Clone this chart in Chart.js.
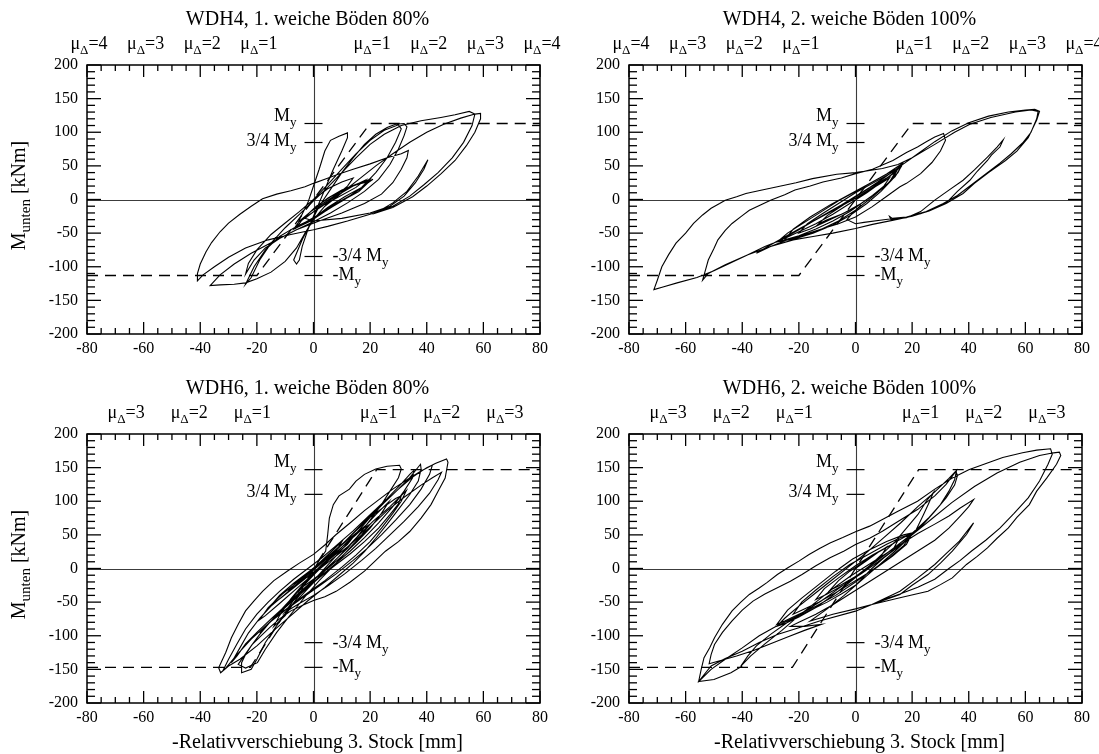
<!DOCTYPE html>
<html><head><meta charset="utf-8">
<script src="https://cdn.jsdelivr.net/npm/chart.js@4.4.1/dist/chart.umd.min.js"></script>
<style>
html,body{margin:0;padding:0;background:#fff;}
#wrap{position:relative;width:1099px;height:754px;overflow:hidden;background:#fff;}
canvas{position:absolute;}
</style></head><body><div id="wrap">
<canvas id="c2" width="550" height="377" style="left:549px;top:0"></canvas>
<canvas id="c4" width="550" height="377" style="left:549px;top:377px"></canvas>
<canvas id="c1" width="570" height="377" style="left:0;top:0"></canvas>
<canvas id="c3" width="570" height="377" style="left:0;top:377px"></canvas>
</div>
<script>
// ---------- data ----------
const xTickValues = [-80,-60,-40,-20,0,20,40,60,80];
const yTickValues = [-200,-150,-100,-50,0,50,100,150,200];
const panelTitles = ["WDH4, 1. weiche Böden 80%","WDH4, 2. weiche Böden 100%","WDH6, 1. weiche Böden 80%","WDH6, 2. weiche Böden 100%"];
const yieldMoments = [113,113,147,147];
const yieldDrifts = [20,20,22.3,22.3];
const ductilityLevels = [[1,2,3,4],[1,2,3,4],[1,2,3],[1,2,3]];
const yAxisTitle = "M";
const yAxisTitleSub = "unten";
const yAxisTitleUnit = " [kNm]";
const xAxisTitle = "-Relativverschiebung 3. Stock [mm]";

const wdh4First = [
[0,0],[5,16],[10,26],[14,32],[12,20],[8,6],[3,-10],[-2,-24],[-5,-34],[-3,-26],[1,-10],[6,4],[11,16],[16,24],[20,30],[18,20],[13,6],[8,-6],[2,-22],[-3,-34],[-6,-42],[-4,-30],[0,-14],[5,2],[10,14],[15,22],[19,26],[21,30],[17,18],[11,4],[5,-12],[0,-28],[-4,-38],[-7,-44],[-5,-32],[-1,-18],[4,-4],[9,10],[14,20],[18,26],[20,28],[16,12],[10,-2],[4,-18],[-1,-32],[-6,-42],
[-5,-30],[-2,-5],[0,20],[2,45],[4,72],[6,88],[9,94],[12,99],[12,92],[10,72],[7,45],[4,15],[1,-15],[-2,-45],[-4,-70],[-5,-90],[-6,-96],[-7,-90],
[-6,-80],[-4,-60],[-1,-35],[2,-10],[6,15],[10,40],[14,62],[18,82],[22,97],[26,107],[29,112],[32,113],[33,108],[32,95],[30,75],[27,52],[23,30],[18,12],[12,-5],[6,-20],[0,-33],[-6,-45],[-12,-58],[-17,-72],[-21,-90],[-24,-111],
[-23,-95],[-20,-75],[-15,-52],[-10,-35],[-5,-18],[0,0],[5,22],[10,45],[15,68],[20,88],[25,103],[30,111],[31,105],[29,85],[26,62],[22,40],[17,18],[11,0],[5,-15],[0,-28],[-6,-40],[-12,-55],[-17,-75],[-21,-100],[-24,-126],
[-22,-116],[-19,-90],[-15,-65],[-10,-42],[-5,-22],[0,-2],[5,18],[10,40],[15,62],[20,82],[25,97],[31,110],[38,117],[45,122],[50,126],[55,131],[57,127],[56,110],[53,85],[49,62],[44,40],[39,22],[34,5],[28,-10],[20,-22],[12,-32],[5,-40],[0,-45],[-8,-52],[-16,-60],[-24,-72],[-30,-86],[-35,-100],[-39,-112],[-41,-121],
[-41,-110],[-40,-96],[-38,-78],[-36,-64],[-33,-48],[-30,-35],[-26,-22],[-22,-10],[-18,1],[-13,8],[-8,13],[-3,19],[0,24],[4,30],[9,38],[14,45],[20,53],[26,62],[31,68],[33.5,73],[33,62],[31,45],[28,25],[24,8],[18,-6],[10,-20],[2,-32],[-6,-45],[-14,-62],[-22,-80],[-28,-96],[-33,-112],[-36.5,-128],
[-33,-127],[-28,-126],[-24,-124],[-20,-118],[-15,-108],[-10,-92],[-6,-72],[-3,-50],[0,-30],[4,-10],[10,10],[16,30],[22,50],[28,68],[34,85],[40,100],[46,112],[52,121],[57,127],[59,128],[59,120],[57,100],[54,80],[50,58],[45,38],[40,20],[35,4],[28,-12],[22,-20],
[28,-5],[33,12],[37,35],[40.4,59],[39,45],[36,25],[32,5],[27,-10],[20,-20],[10,-28],[0,-32],[-3,-28],[2,-12],[8,5],[14,20],[18,28],[15,18],[8,2],[2,-12]
];

const wdh4Second = [
[0,0],[5,14],[9,24],[12,32],[10,20],[6,6],[0,-12],[-5,-22],[-10,-30],[-13,-36],[-10,-24],[-5,-10],[0,4],[6,20],[11,32],[14,40],[12,26],[8,12],[2,-6],[-4,-20],[-10,-32],[-16,-44],[-20,-50],[-17,-36],[-12,-22],[-6,-6],[0,10],[6,24],[12,38],[16,48],[14,34],[10,18],[4,0],[-2,-18],[-8,-32],[-14,-44],[-20,-54],[-25,-60],[-22,-44],[-16,-26],[-9,-8],[-2,8],[5,24],[11,38],[16.7,54],[15,40],[11,22],[6,4],[0,-16],[-6,-32],[-13,-46],[-20,-56],[-27.6,-63],[-24,-50],[-18,-34],[-12,-18],[-6,-2],[0,12],[6,26],[12,40],[15,46],[13,30],[9,12],[4,-6],[-2,-24],[-8,-38],[-15,-50],[-21,-58],[-27.6,-63],
[-20,-45],[-12,-25],[-5,-8],[0,5],[5,18],[10,32],[16,50],[22,68],[28,86],[34,102],[40,114],[47,124],[54,130],[60,133],[63.3,134],[65,131],
[64,118],[61,92],[57,72],[53,58],[47,40],[42,24],[38,9],[32,-6],[26,-17],[20,-25],[13,-31],[6,-37],[0,-43],[-8,-50],[-15,-55],[-22,-60],[-30,-70],[-38,-82],[-46,-97],[-52,-110],[-54,-120],
[-53,-105],[-52,-90],[-50,-73],[-48.6,-60],[-46,-46],[-43.6,-35.6],[-40,-24],[-37.5,-16],[-33,-7],[-30,-1],[-25,7],[-21.4,14],[-16,20],[-11.5,26],[-5,32],[0,38.5],[6,45],[13.2,58],[18,70],[21.9,78],[25,86],[28,93],[31.1,98],[31.8,88],[30,72],[27,55],[23,38.5],[18,24],[15.7,19],[10.8,4],[5.8,-11],[0,-26],[-6,-36],[-12,-44],[-18,-52],[-24,-60],[-30,-70],[-35,-80],
[-31,-70],[-26,-58],[-20,-44],[-13,-28],[-6,-12],[0,2],[6,18],[12,34],[16.7,54],[15,45],[10,28],[4,10],[-2,-6],[-8,-22],[-14,-36],[-20,-48],[-26,-60],[-32,-70],[-38,-82],[-44,-94],[-50,-106],[-56,-116],[-63,-124],[-68,-130],[-71.2,-134],
[-70,-120],[-68.4,-100],[-66,-82],[-63.4,-65],[-60,-50],[-57.2,-35.6],[-54,-23],[-51,-13],[-48,-6],[-46,-1],[-42,4],[-38.7,9],[-33,14],[-27.6,19],[-21,25],[-15.2,31],[-6.6,37.5],[0,40],[9.5,46],[15,52],[20,62],[28,82],[35,100],[40.4,112],[47.8,122],[56.5,130],[62,133],[64.5,131],[64,120],[62,100],[59,84],[55,68],[51,54],[46,38],[41,22],[36,6],[31,-6],[25,-18],[18,-26],[13,-28],[12,-25],[12.5,-30],[18,-27],
[23,-18],[28,-1],[33,14],[38,28.6],[42,44],[46.6,63],[50,78],[52.2,89],[51,78],[48,66],[46.6,58],[43,42],[40.4,28.6],[36,12],[31.8,-6],[27,-15],[23,-21],[18,-26],[10,-30],[3,-34],[0,-36],[-3,-30],[-1,-20],[2,-8]
];

const wdh6First = [
[0,0],[4,16],[8,32],[10,40],[8,26],[4,12],[-1,-6],[-6,-24],[-9,-34],[-6,-20],[-2,-6],[3,10],[8,28],[13,46],[15,52],[12,36],[7,18],[1,-2],[-5,-22],[-11,-42],[-15,-55],[-12,-40],[-7,-22],[-2,-6],[4,14],[10,36],[15,52],[20,66],[17,50],[12,32],[6,12],[0,-8],[-6,-30],[-12,-52],[-17,-70],[-19,-76],[-16,-58],[-11,-38],[-5,-18],[1,2],[7,24],[13,46],[19,66],
[15,50],[9,28],[3,6],[-3,-20],[-8,-45],[-12,-70],[-14,-86],[-10,-70],[-6,-45],[-2,-15],[2,12],[4.3,26],[5,50],[5.6,75],[7,95],[9,108],[12.7,118],[15,130],[18,140],[22,148],[26,152],[30.4,153.5],[31,148],[30,135],[27,115],[24,95],[20,72],[16,50],[12,30],[7,10],[2,-10],[-4,-32],[-10,-55],[-15,-78],[-19,-98],[-22,-115],[-24,-128],[-25.4,-140],[-25.4,-155],
[-22,-150],[-20,-135],[-17,-110],[-13,-85],[-9,-62],[-5,-40],[0,-18],[5,5],[10,28],[15,52],[20,76],[25,98],[30,118],[34,135],[37.8,155],[38,148],[37,130],[34,110],[30,88],[26,66],[22,45],[18,25],[14,8],[9,-10],[4,-28],[-2,-48],[-8,-70],[-14,-92],[-20,-115],[-26,-135],[-30,-145],[-32.8,-155],
[-33.5,-147.5],[-31,-125],[-29,-103],[-26.5,-82],[-24,-63],[-21,-48],[-18,-34],[-14,-18],[-9.3,-4],[-5,8],[0,21],[4,35],[8,50.5],[13,68],[18,86],[23,102],[28,118],[33,132],[38,145],[43,156],[47,163],[47.5,158],[46.5,134.6],[44,115],[41.5,95],[38,75],[34,55],[30,40],[25.4,25.7],[22,12],[18,-4],[13,-20],[8,-34],[4,-42],[0,-47.5],[-4,-55],[-8,-63],[-12,-75],[-15.5,-88],[-19,-102],[-21.7,-113],[-24,-127],[-26.6,-142.6],[-24,-148],[-19.8,-140],
[-17,-120],[-13,-95],[-8,-68],[-3,-42],[2,-18],[8,8],[14,36],[20,62],[26,86],[32,106],[38,124],[42,135],[45.2,143],[44,132],[41,112],[37,92],[32,70],[27,50],[22,30],[17,12],[11,-8],[5,-26],[0,-40],[-5,-52],[-10,-65],
[-6,-48],[-2,-30],[3,-8],[9,18],[15,45],[21,70],[27,92],[32.8,116],[31,100],[28,82],[24,60],[20,40],[15,20],[10,2],[4,-18],[-2,-36],[-8,-55],[-14,-75],[-18,-90],[-15,-78],[-10,-55],[-5,-32],[0,-10],[6,15],[12,40],[18,62],[22,80],[26.6,99],[24,82],[20,60],[15,38],[10,18],[5,0],[0,-16],[-4,-28],
[0,-8],[6,18],[12,44],[18,70],[24,94],[30,118],[35,136],[40,150],[42,154],[41,140],[38,118],[34,95],[29,72],[24,50],[19,30],[14,12],[8,-8],[2,-26],[-4,-44],[-10,-62],[-16,-82],[-22,-105],[-27,-128],[-31,-148],[-32,-152],
[-30,-135],[-27,-112],[-24,-90],[-20,-68],[-16,-50],[-12,-34],[-7,-16],[-2,0],[3,16],[8,34],[14,56],[20,80],[26,104],[31,126],[34,140],[35.5,146],[35,135],[32,115],[28,92],[23,68],[18,46],[13,26],[8,8],[3,-10],[-3,-30],[-9,-52],[-15,-75],[-20,-95],[-24,-112],[-27,-130],[-29,-140],
[-26,-118],[-23,-96],[-19,-74],[-15,-56],[-10,-38],[-5,-20],[0,-2],[5,16],[10,36],[15,56],[20,76],[25,92],[29,104],[31,108],[30,96],[27,80],[23,60],[18,40],[13,22],[8,6],[2,-14],[-4,-36],[-10,-58],[-15,-78],[-19,-96]
];

const wdh6Second = [
[0,0],[4,12],[8,24],[11,32],[9,18],[5,4],[0,-12],[-5,-24],[-9,-32],[-6,-18],[-2,-4],[3,10],[8,24],[13,36],[15,42],[13,26],[8,10],[2,-8],[-4,-24],[-10,-38],[-14,-46],[-11,-30],[-6,-14],[0,4],[6,20],[12,34],[17,46],[20,52],[18,36],[13,18],[7,0],[0,-18],[-7,-36],[-13,-50],[-19,-62],[-22,-68],[-19,-50],[-14,-32],[-8,-12],[-2,6],[5,22],[11,36],[16,46],[20,52],[17,34],[12,16],[6,-2],[0,-20],[-7,-40],[-14,-56],[-20,-68],[-25,-78],[-27.8,-83],[-24,-62],[-19,-44],[-13,-24],[-7,-4],[-1,14],[5,28],[11,40],[17,50],[21,54],
[24,80],[26,98],[27.5,113],[25,100],[22,80],[18,60],[14,40],[9,20],[4,0],[-2,-20],[-8,-40],[-14,-58],[-20,-72],[-25,-82],[-27.8,-86],
[-25,-74],[-20,-56],[-14,-36],[-8,-16],[-2,4],[4,24],[10,46],[16,68],[22,92],[28,114],[33,134],[35.7,146],
[35,132],[33,115],[30,95],[26,76],[22,60],[18,45],[14,32],[9,16],[4,0],[0,-12],[-6,-30],[-12,-48],[-18,-64],[-24,-80],[-30,-98],[-35,-115],[-38,-130],[-40.5,-145],
[-37,-130],[-32,-112],[-26,-92],[-20,-70],[-14,-50],[-8,-30],[-2,-12],[4,4],[10,20],[16,36],[22,52],[28,66],[33,78],[37,90],[41.7,102.5],
[40,92],[37,78],[33,60],[28,42],[22,26],[16,10],[10,-6],[4,-22],[-2,-38],[-8,-54],[-14,-68],[-20,-80],[-23,-86],[-18,-86],[-12,-83],
[-18,-92],[-24,-102],[-30,-112],[-36,-122],[-42,-130],[-47,-136],[-51.7,-141.6],
[-51,-128],[-49.8,-113],[-47,-95],[-43.6,-78],[-40,-62],[-36.2,-48.5],[-32,-38],[-27.6,-28.7],[-23,-19],[-18.9,-9],[-14,4],[-9,16],[-4,26],[0,35.6],[5,45],[9.5,55.4],[15,70],[21.9,87.6],[28,108],[32,125],[35.5,144.6],
[36,138],[35,124],[32,105],[28,85],[24,66],[20,50],[15,32],[10,16],[5.8,0],[3,-12],[0,-25],[-5,-38],[-10,-50],[-16,-62],[-22,-74],[-28,-86],[-34,-100],[-40,-118],[-46,-135],[-51,-150],[-55.4,-168],
[-54.5,-150],[-53.5,-132.7],[-51.5,-118],[-49.8,-103],[-47,-83],[-43.6,-63],[-40.5,-50],[-37.5,-38.6],[-34,-29],[-31.3,-21],[-27.6,-9],[-23.9,1],[-20,11],[-16.4,20.8],[-12.7,29.7],[-9,38],[-4.5,46],[0,54.5],[5,63],[9.5,72.8],[15,85],[21.9,100],[28,118],[34.2,134.7],[40,147],[46.6,157],[52,165],[59,172],[64,176],[68.9,178],
[69.5,170],[68,155],[65,130],[61,105],[56,82],[51,60],[46,42],[41,26],[37,12],[33,0],[28,-16],[22,-28],[15.7,-38],[10,-46],[5.8,-53.5],
[15.7,-33.7],[22,-14],[28,6],[32,22],[36.7,40.6],[41.7,67.8],[39.2,50.5],[34.2,25.7],[30,8],[25.6,-9],[20,-25],[15.7,-38.6],[5.8,-53.5],[0,-60],[-8,-68],[-16,-78],
[-10,-60],[-4,-40],[2,-18],[8,4],[14,26],[20,50],[27,74],[34,98],[42,122],[50,142],[58,158],[65,168],[70,172],[72,173],[72.5,168],[71,155],[67.6,134.7],[64,115],[61.4,95],[57,76],[54,60.4],[50,45],[46.6,30.7],[43,18],[39.2,6],[34.2,-14],[30,-24],[25.6,-33.7],[15.7,-43.6],[5.8,-53.5],[0,-63.4],[-12.7,-78],[-20,-88],[-27.6,-98],[-34,-110],[-40,-123],[-46,-134],[-51,-145],[-55.4,-168],[-50,-165],[-44,-155],[-40,-145]
];

const panelSeries = [wdh4First, wdh4Second, wdh6First, wdh6Second];

// ---------- drawing ----------
const FONT = '"Liberation Serif", "DejaVu Serif", serif';

function richWidth(ctx, parts){
  let w = 0;
  for (const p of parts){ ctx.font = p.s + 'px ' + FONT; w += ctx.measureText(p.t).width; }
  return w;
}
function drawRich(ctx, parts, x, y, align){
  const w = richWidth(ctx, parts);
  let cx = align === 'center' ? x - w/2 : (align === 'right' ? x - w : x);
  ctx.textAlign = 'left'; ctx.textBaseline = 'alphabetic'; ctx.fillStyle = '#000';
  for (const p of parts){
    ctx.font = p.s + 'px ' + FONT;
    ctx.fillText(p.t, cx, y + (p.dy || 0));
    cx += ctx.measureText(p.t).width;
  }
}
function seg(ctx, x1, y1, x2, y2){ ctx.beginPath(); ctx.moveTo(x1, y1); ctx.lineTo(x2, y2); ctx.stroke(); }

const panelDecor = {
  id: 'panelDecor',
  beforeDatasetsDraw(chart, args, o){
    const {ctx, chartArea: a, scales: {x, y}} = chart;
    ctx.save();
    ctx.strokeStyle = '#3c3c3c'; ctx.lineWidth = 1.1;
    const x0 = Math.round(x.getPixelForValue(0)) + 0.5, y0 = Math.round(y.getPixelForValue(0)) + 0.5;
    seg(ctx, a.left, y0, a.right, y0);
    seg(ctx, x0, a.top, x0, a.bottom);
    ctx.restore();
  },
  afterDraw(chart, args, o){
    const {ctx, chartArea: a, scales: {x, y}} = chart;
    ctx.save();
    ctx.strokeStyle = '#000'; ctx.lineWidth = 1.3;
    for (let v = -80; v <= 80; v += 5){
      const px = x.getPixelForValue(v);
      const len = (v % 20 === 0) ? 12 : 6;
      seg(ctx, px, a.bottom, px, a.bottom - len);
      seg(ctx, px, a.top, px, a.top + len);
    }
    for (let v = -200; v <= 200; v += 10){
      const py = y.getPixelForValue(v);
      const len = (v % 50 === 0) ? 14 : 8;
      seg(ctx, a.left, py, a.left + len, py);
      seg(ctx, a.right, py, a.right - len, py);
    }
    ctx.lineWidth = 1.5;
    ctx.strokeRect(a.left, a.top, a.right - a.left, a.bottom - a.top);

    const x0 = x.getPixelForValue(0);
    const my = o.my;
    const marks = [
      {v: my, parts: [{t:'M', s:18},{t:'y', s:13, dy:5}], side:'left', off:-3},
      {v: 0.75*my, parts: [{t:'3/4 M', s:18},{t:'y', s:13, dy:5}], side:'left', off:3},
      {v: -0.75*my, parts: [{t:'-3/4 M', s:18},{t:'y', s:13, dy:5}], side:'right', off:5},
      {v: -my, parts: [{t:'-M', s:18},{t:'y', s:13, dy:5}], side:'right', off:5}
    ];
    ctx.lineWidth = 1.2; ctx.strokeStyle = '#000';
    for (const m of marks){
      const py = y.getPixelForValue(m.v);
      seg(ctx, x0 - 9, py, x0 + 9, py);
      if (m.side === 'left') drawRich(ctx, m.parts, x0 - 17, py + m.off, 'right');
      else drawRich(ctx, m.parts, x0 + 19, py + m.off, 'left');
    }

    for (const k of o.mu){
      for (const sgn of [-1, 1]){
        const px = x.getPixelForValue(sgn * k * o.dy);
        drawRich(ctx, [{t:'μ', s:18},{t:'Δ', s:13, dy:5},{t:'=' + k, s:18}], px + 2, a.top - 16, 'center');
      }
    }

    const cx = (a.left + a.right) / 2;
    ctx.font = '20px ' + FONT; ctx.fillStyle = '#000'; ctx.textAlign = 'center'; ctx.textBaseline = 'alphabetic';
    ctx.fillText(o.title, cx - 6, a.top - 40);

    if (o.xTitle){
      ctx.font = '20px ' + FONT; ctx.textAlign = 'center';
      ctx.fillText(xAxisTitle, cx + 4, a.bottom + 45);
    }
    if (o.yTitle){
      ctx.save();
      ctx.translate(25, (a.top + a.bottom) / 2 - 4);
      ctx.rotate(-Math.PI / 2);
      drawRich(ctx, [{t:yAxisTitle, s:20},{t:yAxisTitleSub, s:15, dy:5},{t:yAxisTitleUnit, s:20}], 0, 0, 'center');
      ctx.restore();
    }
    ctx.restore();
  }
};

function makePanel(id, idx, box){
  const canvas = document.getElementById(id);
  const W = canvas.width, H = canvas.height;
  const my = yieldMoments[idx], dy = yieldDrifts[idx];
  const envelope = [{x:-80, y:-my},{x:-dy, y:-my},{x:dy, y:my},{x:80, y:my}];
  new Chart(canvas, {
    type: 'scatter',
    data: { datasets: [
      { data: envelope, showLine: true, borderColor: '#000', borderWidth: 1.3, borderDash: [11,7], pointRadius: 0, fill: false },
      { data: panelSeries[idx].map(p => ({x: p[0], y: p[1]})), showLine: true, borderColor: '#000', borderWidth: 1.1, pointRadius: 0, tension: 0, fill: false }
    ]},
    plugins: [panelDecor],
    options: {
      responsive: false, animation: false, devicePixelRatio: 1,
      layout: { padding: { left: 0, top: box.top, right: W - box.right, bottom: 0 } },
      plugins: {
        legend: { display: false }, tooltip: { enabled: false }, title: { display: false },
        panelDecor: { my: my, dy: dy, mu: ductilityLevels[idx], title: panelTitles[idx], xTitle: idx >= 2, yTitle: idx % 2 === 0 }
      },
      scales: {
        x: { type: 'linear', min: -80, max: 80,
             afterBuildTicks: s => { s.ticks = xTickValues.map(v => ({value: v})); },
             afterFit: s => { s.height = H - box.bottom; },
             ticks: { color: '#000', font: { family: FONT, size: 16 }, padding: 5, autoSkip: false, maxRotation: 0 },
             grid: { display: false, drawTicks: false }, border: { display: false } },
        y: { type: 'linear', min: -200, max: 200,
             afterBuildTicks: s => { s.ticks = yTickValues.map(v => ({value: v})); },
             afterFit: s => { s.width = box.left; },
             ticks: { color: '#000', font: { family: FONT, size: 16 }, padding: 9, autoSkip: false },
             grid: { display: false, drawTicks: false }, border: { display: false } }
      }
    }
  });
}

makePanel('c2', 1, {left: 80, right: 533, top: 65, bottom: 334});
makePanel('c4', 3, {left: 80, right: 533, top: 57, bottom: 326});
makePanel('c1', 0, {left: 87, right: 540, top: 65, bottom: 334});
makePanel('c3', 2, {left: 87, right: 540, top: 57, bottom: 326});
</script>
</body></html>
